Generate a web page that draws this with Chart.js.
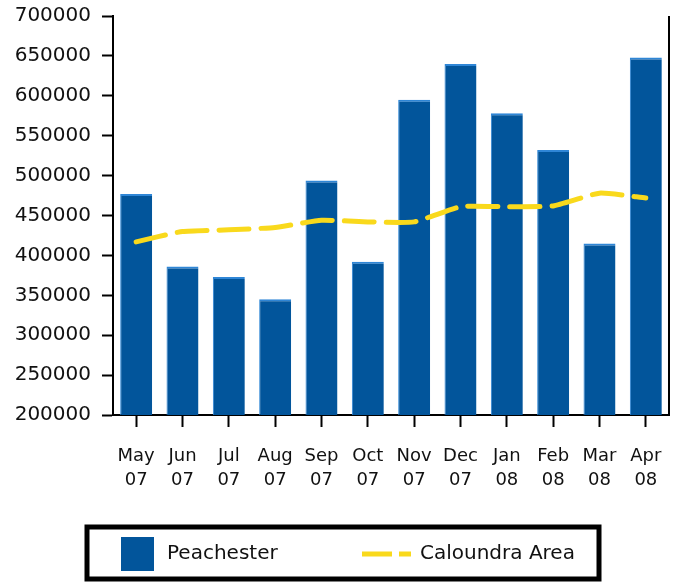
<!DOCTYPE html>
<html>
<head>
<meta charset="utf-8">
<script src="https://cdn.jsdelivr.net/npm/chart.js@4"></script>
<style>
  html, body { margin: 0; padding: 0; background: #fff; }
  #wrap { width: 674px; height: 582px; }
</style>
</head>
<body>
<div id="wrap"><canvas id="salesChart" width="674" height="582"></canvas></div>
<script>
// Month labels (two lines each)
const months = ['May', 'Jun', 'Jul', 'Aug', 'Sep', 'Oct', 'Nov', 'Dec', 'Jan', 'Feb', 'Mar', 'Apr'];
const years = ['07', '07', '07', '07', '07', '07', '07', '07', '08', '08', '08', '08'];

// Median prices
const peachester = [477000, 386000, 373000, 345000, 494000, 392000, 595000, 640000, 578000, 532000, 415000, 648000];
const caloundra = [417000, 430000, 432000, 435000, 444000, 442000, 442000, 461000, 461000, 462000, 478000, 472000];

const yTicks = { min: 200000, max: 700000, step: 50000 };

const blue = '#02559b';
const yellow = '#f9d91c';
const font = { family: 'DejaVu Sans', size: 18 };

// right-hand frame line
const frameLine = {
  id: 'frameLine',
  afterDraw(chart) {
    const { ctx, chartArea } = chart;
    ctx.save();
    ctx.strokeStyle = '#000';
    ctx.lineWidth = 2;
    ctx.beginPath();
    ctx.moveTo(chartArea.right, chartArea.top);
    ctx.lineTo(chartArea.right, chartArea.bottom);
    ctx.stroke();
    ctx.restore();
  }
};

// boxed legend at the bottom
const boxLegend = {
  id: 'boxLegend',
  afterDraw(chart) {
    const ctx = chart.ctx;
    const ds = chart.data.datasets;
    const top = chart.height - 57;
    ctx.save();
    ctx.strokeStyle = '#000';
    ctx.lineWidth = 5;
    ctx.strokeRect(87, top + 2, 512, 52);

    ctx.font = '20px "DejaVu Sans"';
    ctx.fillStyle = '#111';
    ctx.textBaseline = 'middle';
    const cy = top + 29;

    // bar item
    ctx.fillStyle = ds[1].backgroundColor;
    ctx.fillRect(121, cy - 17, 33, 34);
    ctx.fillStyle = '#111';
    ctx.fillText(ds[1].label, 167, cy);

    // line item
    ctx.strokeStyle = ds[0].borderColor;
    ctx.lineWidth = 5;
    ctx.beginPath();
    ctx.moveTo(362, cy); ctx.lineTo(392, cy);
    ctx.moveTo(399, cy); ctx.lineTo(411, cy);
    ctx.stroke();
    ctx.fillText(ds[0].label, 420, cy);
    ctx.restore();
  }
};

const ctx = document.getElementById('salesChart').getContext('2d');
new Chart(ctx, {
  data: {
    labels: months.map((m, i) => [m, years[i]]),
    datasets: [
      {
        type: 'line',
        label: 'Caloundra Area',
        data: caloundra,
        borderColor: yellow,
        borderWidth: 5,
        borderDash: [30, 12],
        borderCapStyle: 'round',
        pointRadius: 0,
        tension: 0.15,
        fill: false,
        order: 0,
      },
      {
        type: 'bar',
        label: 'Peachester',
        data: peachester,
        backgroundColor: blue,
        borderColor: '#2f86d6',
        borderWidth: { top: 2, left: 1, right: 0, bottom: 0 },
        borderSkipped: false,
        categoryPercentage: 1,
        barPercentage: 0.69,
        order: 1,
      },
    ],
  },
  options: {
    responsive: false,
    animation: false,
    layout: { padding: { top: 16, right: 5, left: 0, bottom: 0 } },
    plugins: {
      legend: { display: false },
      tooltip: { enabled: false },
    },
    scales: {
      x: {
        offset: true,
        grid: {
          offset: false,
          drawOnChartArea: false,
          drawTicks: true,
          tickLength: 12,
          tickWidth: 2,
          color: '#000',
        },
        border: { display: true, color: '#000', width: 2 },
        ticks: {
          color: '#111',
          font: { ...font, lineHeight: 1.3 },
          padding: 18,
          maxRotation: 0,
          autoSkip: false,
        },
        afterFit(scale) {
          scale.height = 167;
          scale.paddingLeft = 0;
          scale.paddingRight = 0;
        },
      },
      y: {
        min: yTicks.min,
        max: yTicks.max,
        grid: {
          drawOnChartArea: false,
          drawTicks: true,
          tickLength: 11,
          tickWidth: 2,
          color: '#000',
        },
        border: { display: true, color: '#000', width: 2 },
        ticks: {
          stepSize: yTicks.step,
          color: '#111',
          font: { family: 'DejaVu Sans', size: 20 },
          padding: 11,
          callback: (v) => String(v),
        },
        afterFit(scale) {
          scale.width = 113;
          scale.paddingTop = 0;
          scale.paddingBottom = 0;
        },
      },
    },
  },
  plugins: [frameLine, boxLegend],
});
</script>
</body>
</html>
